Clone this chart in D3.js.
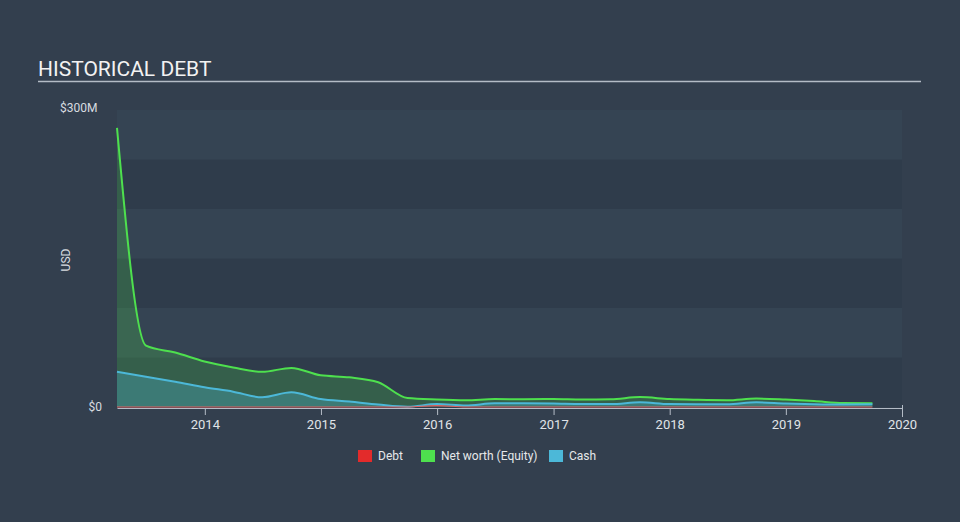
<!DOCTYPE html>
<html><head><meta charset="utf-8">
<script src="https://cdn.jsdelivr.net/npm/d3@7"></script>
<style>
html,body{margin:0;padding:0;background:#333f4e;}
svg{display:block;font-family:Roboto,"Open Sans",sans-serif;}
</style></head>
<body><svg id="c" width="960" height="522"></svg>
<script>
const dates = ["2013-03-31","2013-06-30","2013-09-30","2013-12-31","2014-03-31","2014-06-30","2014-09-30","2014-12-31",
"2015-03-31","2015-06-30","2015-09-30","2015-12-31","2016-03-31","2016-06-30","2016-09-30","2016-12-31",
"2017-03-31","2017-06-30","2017-09-30","2017-12-31","2018-03-31","2018-06-30","2018-09-30","2018-12-31",
"2019-03-31","2019-06-30","2019-09-30"];
const netWorth = [282,62,55,46,40,35.5,39.5,32,30,25,9,7.5,6.8,8,7.8,8,7.5,7.8,10,8,7.2,6.8,8.5,7.5,6,4,3.8];
const cash = [35.7,30.5,25.5,20,15.5,9.8,14.8,8,5.5,2.5,0.3,3,1.5,3.7,3.7,3.5,3,3,4.8,3,2.8,2.8,4.7,3.5,2.8,2.5,2.7];
const debt = [0,0,0,0,0,0,0,0,0,0,0,1.5,0,0,0,0,0,0,0,0,0,0,0,0,0,0,0];
const xTicks = ["2014","2015","2016","2017","2018","2019","2020"];
const yTickLabels = ["$0","$300M"];
const legendItems = ["Debt","Net worth (Equity)","Cash"];

(function(){
const svg = d3.select("#c");
const parse = d3.timeParse("%Y-%m-%d");
const D = dates.map(parse);
const pL=117, pR=902, pT=110, pB=407;
const x = d3.scaleTime().domain([parse("2013-03-31"), parse("2020-01-01")]).range([pL,pR]);
const y = d3.scaleLinear().domain([0,300]).range([pB,pT]);

// background bands
const bandVals = d3.range(0,300,50);
svg.append("g").selectAll("rect").data(bandVals).join("rect")
  .attr("x",pL).attr("width",pR-pL)
  .attr("y",d=>y(d+50)).attr("height",d=>y(d)-y(d+50))
  .attr("fill",(d,i)=> i%2===0 ? "#2f3c4b" : "#354453");

// title
svg.append("text").attr("x",38).attr("y",76).text("HISTORICAL DEBT")
  .attr("fill","#f2f2f2").attr("font-size",21);
svg.append("line").attr("x1",38).attr("x2",921).attr("y1",81.5).attr("y2",81.5)
  .attr("stroke","#b4bcc6").attr("stroke-width",1.5);

const curve = d3.curveMonotoneX;
const area = vals => d3.area().curve(curve).x((d,i)=>x(D[i])).y0(y(0)).y1(d=>y(d))(vals);
const line = vals => d3.line().curve(curve).x((d,i)=>x(D[i])).y(d=>y(d))(vals);

svg.append("path").attr("d",area(netWorth)).attr("fill","#4ee04e").attr("fill-opacity",0.22);
svg.append("path").attr("d",area(cash)).attr("fill","#4cb8d8").attr("fill-opacity",0.3);
svg.append("path").attr("d",area(debt)).attr("fill","#e32b2b").attr("fill-opacity",0.35);
svg.append("path").attr("d",line(netWorth)).attr("fill","none").attr("stroke","#4ee04e").attr("stroke-width",2);
svg.append("path").attr("d",line(cash)).attr("fill","none").attr("stroke","#4cb8d8").attr("stroke-width",2);
svg.append("path").attr("d",line(debt)).attr("fill","none").attr("stroke","#e06060").attr("stroke-width",1.2);

// x axis
const xAxis = d3.axisBottom(x).tickValues(xTicks.map(t=>parse(t+"-01-01"))).tickFormat(d3.timeFormat("%Y")).tickSize(7).tickSizeOuter(0);
const gx = svg.append("g").attr("transform",`translate(0,${pB+1})`).call(xAxis);
gx.select(".domain").attr("stroke","#b4bcc6");
gx.selectAll(".tick line").attr("stroke","#b4bcc6");
gx.selectAll(".tick text").attr("fill","#e0e4e8").attr("font-size",13).attr("dy","0.85em").attr("font-family","Roboto, sans-serif");
gx.select(".tick:last-of-type line").attr("y1",-3).attr("y2",9);

// y labels
svg.append("text").attr("x",102).attr("y",y(0)+4).attr("text-anchor","end").text(yTickLabels[0])
  .attr("fill","#d8dce0").attr("font-size",12);
svg.append("text").attr("x",60).attr("y",112).text(yTickLabels[1])
  .attr("fill","#d8dce0").attr("font-size",12);
svg.append("text").attr("transform","translate(70,260) rotate(-90)").attr("text-anchor","middle").text("USD")
  .attr("fill","#d8dce0").attr("font-size",12);

// legend
const legColors = ["#e32b2b","#4ee04e","#4cb8d8"];
const legX = [358,421,549];
const lg = svg.append("g");
legendItems.forEach((t,i)=>{
  lg.append("rect").attr("x",legX[i]).attr("y",450).attr("width",14).attr("height",12).attr("fill",legColors[i]);
  lg.append("text").attr("x",legX[i]+20).attr("y",460).text(t).attr("fill","#e6e8ea").attr("font-size",12);
});
})();
</script></body></html>
